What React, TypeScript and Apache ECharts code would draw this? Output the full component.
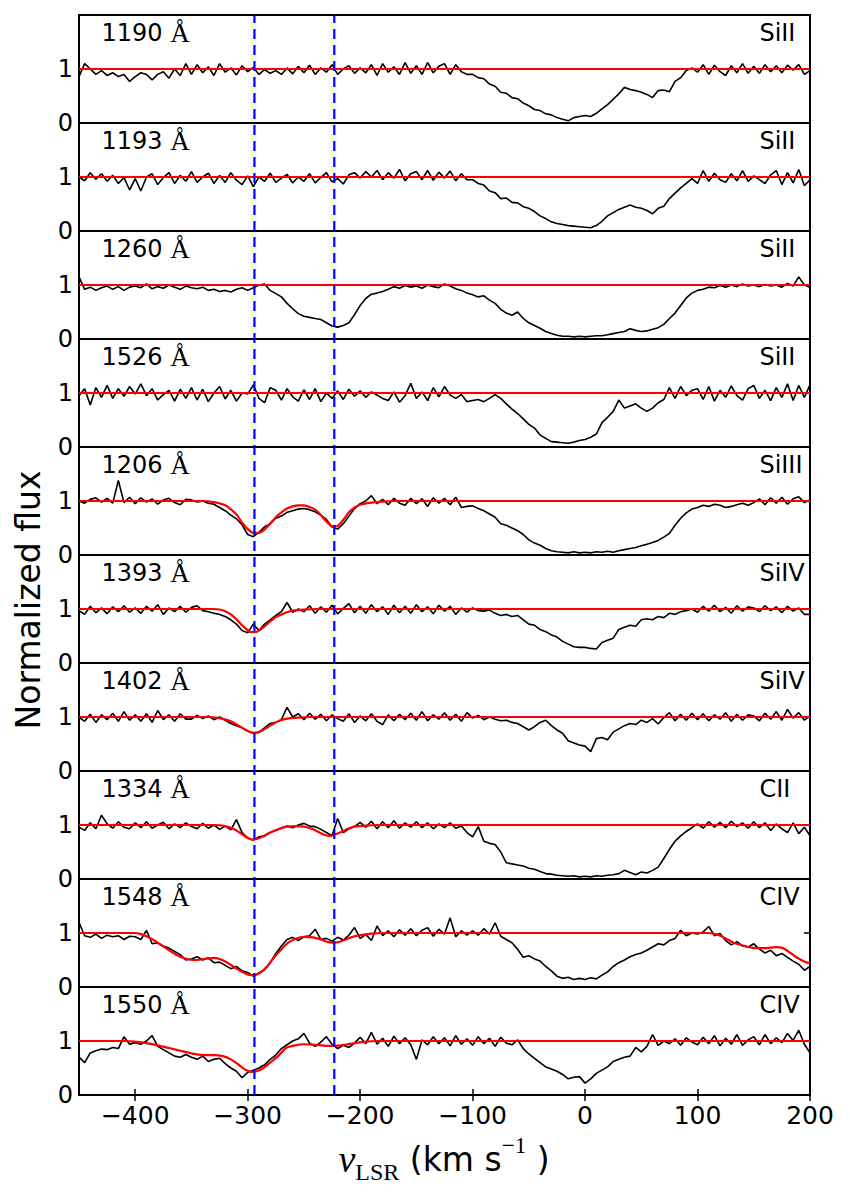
import React, { useEffect, useRef } from "react";
import * as echarts from "echarts";

// Velocity sampling of the normalized spectra (km/s)
const velocityStart = -450;
const velocityStep = 5;

const lineLabels = ["1190", "1193", "1260", "1526", "1206", "1393", "1402", "1334", "1548", "1550"];
const ionLabels = ["SiII", "SiII", "SiII", "SiII", "SiIII", "SiIV", "SiIV", "CII", "CIV", "CIV"];
const componentVelocities = [-294, -223];
const xTickValues = [-400, -300, -200, -100, 0, 100, 200];
const yTickValues = [0, 1];

// Normalized flux, one value every 5 km/s from -450 to 200 km/s
const fluxSiII1190 = [
  0.86, 1.1, 1.0, 0.9, 0.97, 0.88, 0.93, 0.86, 0.9, 0.77,
  0.86, 0.93, 0.9, 0.8, 0.9, 0.95, 0.83, 1.0, 0.88, 1.1,
  0.9, 1.08, 0.93, 1.04, 0.88, 1.1, 0.94, 1.02, 0.89, 1.06,
  0.95, 1.03, 0.9, 0.99, 0.92, 0.97, 0.9, 1.02, 0.91, 1.05,
  0.93, 1.07, 0.9, 1.02, 0.94, 1.08, 0.9, 1.0, 1.06, 0.92,
  1.02, 0.93, 1.08, 0.88, 1.1, 0.94, 1.04, 0.9, 1.12, 0.92,
  1.06, 0.9, 1.12, 0.93, 1.05, 1.1, 0.9, 1.08, 0.95, 0.9,
  0.9, 0.84, 0.82, 0.72, 0.68, 0.57, 0.55, 0.47, 0.45, 0.37,
  0.32, 0.25, 0.23, 0.17, 0.15, 0.1, 0.07, 0.04, 0.1, 0.12,
  0.14, 0.12, 0.18, 0.26, 0.34, 0.44, 0.54, 0.66, 0.62, 0.6,
  0.57, 0.53, 0.47, 0.6, 0.61, 0.58, 0.77, 0.84, 0.97, 1.02,
  0.94, 1.08, 0.9, 1.07, 0.95, 0.88, 1.06, 0.93, 1.1, 0.92,
  1.05, 0.92, 1.08, 0.95, 1.06, 0.93, 1.07, 0.98, 1.08, 0.9,
  0.97,
];
const fluxSiII1193 = [
  1.0, 0.93, 1.08, 0.96, 1.06, 0.92, 1.03, 0.88, 0.99, 0.76,
  0.97, 0.74, 1.0, 1.06, 0.86, 0.99, 1.08, 0.88, 1.03, 0.92,
  1.1, 0.9, 1.0, 1.07, 0.88, 1.03, 0.9, 1.08, 0.94, 0.86,
  1.02, 0.82, 1.0, 0.92, 1.07, 0.9, 0.98, 1.05, 0.89, 1.0,
  0.92, 1.06, 0.89, 0.99, 1.08, 0.91, 0.97, 0.87, 1.04, 1.08,
  0.98, 1.1, 1.0, 1.12, 0.95, 1.08, 0.98, 1.14, 0.93, 1.06,
  1.1, 0.95, 1.12, 0.94, 1.09, 0.98, 1.11, 0.93, 1.06, 0.95,
  0.95, 0.88, 0.85, 0.74, 0.71, 0.6, 0.61, 0.53, 0.52, 0.45,
  0.42, 0.36, 0.28, 0.23, 0.17, 0.14, 0.12, 0.1, 0.09, 0.08,
  0.07, 0.06, 0.1, 0.18, 0.28, 0.34, 0.4, 0.44, 0.48, 0.44,
  0.42, 0.38, 0.32, 0.42, 0.46, 0.6, 0.7, 0.8, 0.88, 0.97,
  0.88, 1.12, 0.92, 1.07, 0.95, 0.9, 1.06, 0.93, 1.12, 0.92,
  1.02, 0.95, 0.88, 1.04, 1.12, 0.86, 1.08, 0.89, 1.14, 0.84,
  0.95,
];
const fluxSiII1260 = [
  1.15, 0.92, 0.96, 0.9, 0.95, 0.98, 0.92, 0.97, 0.9, 0.96,
  0.98, 0.95, 1.02, 0.93, 0.97, 0.94, 1.0, 0.96, 0.92, 0.98,
  0.95, 0.93, 0.96, 0.9, 0.92, 0.88, 0.9, 0.87, 0.92, 0.95,
  0.9, 0.95, 1.0, 1.02, 0.9, 0.84, 0.78, 0.66, 0.56, 0.47,
  0.42, 0.4, 0.38, 0.36, 0.3, 0.24, 0.22, 0.25, 0.3, 0.45,
  0.62, 0.75, 0.83, 0.85, 0.88, 0.92, 0.97, 0.94, 0.99, 0.96,
  0.98, 0.94, 1.0, 0.97, 0.95, 1.02, 0.98, 0.93, 0.9, 0.85,
  0.82, 0.78, 0.8, 0.72, 0.66, 0.55, 0.48, 0.44, 0.5, 0.38,
  0.3, 0.25, 0.2, 0.14, 0.1, 0.07, 0.05, 0.05, 0.04, 0.05,
  0.04, 0.05, 0.06, 0.06, 0.08, 0.1, 0.12, 0.14, 0.19, 0.16,
  0.14, 0.15, 0.18, 0.21, 0.27, 0.38, 0.48, 0.62, 0.76, 0.85,
  0.9, 0.92, 0.96, 0.95, 0.99, 0.96, 1.0, 0.97, 1.02, 0.98,
  1.0, 0.97, 1.01, 0.98, 1.0, 0.96, 1.03, 0.98, 1.15, 1.0,
  0.96,
];
const fluxSiII1526 = [
  0.95, 1.08, 0.78, 1.1, 0.92, 1.14, 0.9, 1.08, 0.94, 1.12,
  0.98, 1.17, 0.95, 1.08, 0.87, 0.97, 1.05, 0.85, 1.07, 0.9,
  1.1, 0.87, 1.07, 0.84, 1.0, 1.12, 0.89, 1.05, 0.85, 1.0,
  0.98, 1.15, 0.9, 0.82, 1.1, 1.05, 0.87, 1.08, 0.93, 0.85,
  1.06, 0.88, 1.08, 0.84, 1.0, 0.9, 1.04, 0.88, 1.07, 0.94,
  1.04, 0.92, 1.02, 0.96, 0.9, 0.86, 1.02, 0.83, 0.95, 1.18,
  0.9, 1.02, 0.86, 1.1, 0.93, 1.12, 0.96, 0.9, 0.97, 0.84,
  0.86, 0.88, 0.84, 0.9, 0.97, 0.9, 0.8, 0.7, 0.62, 0.52,
  0.42, 0.35, 0.22, 0.16, 0.1, 0.09, 0.08, 0.07, 0.09, 0.12,
  0.14, 0.18, 0.24, 0.45, 0.55, 0.66, 0.87, 0.72, 0.76, 0.8,
  0.72, 0.66, 0.72, 0.82, 0.88, 1.1, 0.9, 1.12, 0.95, 1.05,
  1.08, 0.88, 1.12, 0.85, 1.05, 0.92, 1.13, 0.95, 0.87, 1.08,
  1.14, 0.9, 1.05, 0.86, 1.1, 0.92, 1.17, 0.86, 1.14, 0.92,
  1.15,
];
const fluxSiIII1206 = [
  1.0, 0.96, 1.03, 1.06, 0.98, 1.05, 0.96, 1.38, 0.97, 1.07,
  0.95, 1.06, 0.98, 1.04, 0.94, 1.02, 1.05, 0.97, 0.93, 1.03,
  1.02, 0.98, 1.0, 0.96, 0.94, 0.88, 0.82, 0.74, 0.67, 0.56,
  0.38, 0.34, 0.42, 0.52, 0.58, 0.68, 0.72, 0.79, 0.82, 0.85,
  0.86, 0.84, 0.8, 0.74, 0.66, 0.52, 0.48, 0.58, 0.72, 0.86,
  0.95, 1.0, 1.1, 0.95, 1.03, 0.93, 1.05, 0.96, 0.92, 1.05,
  0.95, 1.04, 0.9, 1.06, 0.96, 1.05, 0.93, 1.07, 0.88, 0.9,
  0.91, 0.86, 0.82, 0.76, 0.7, 0.58, 0.55, 0.5, 0.45, 0.38,
  0.28, 0.22, 0.18, 0.12, 0.08, 0.06, 0.05, 0.04, 0.06, 0.04,
  0.05, 0.04, 0.06, 0.05, 0.07, 0.05, 0.08, 0.1, 0.12, 0.14,
  0.17, 0.2, 0.23, 0.27, 0.33, 0.4, 0.55, 0.68, 0.78, 0.85,
  0.88, 0.92, 0.9, 0.94, 0.92, 0.88, 0.9, 0.93, 0.96, 0.92,
  0.97, 1.04, 0.93, 1.06, 0.96, 1.07, 0.94, 1.04, 1.08, 0.97,
  1.02,
];
const fluxSiIV1393 = [
  0.97, 0.9, 1.05, 0.93, 1.02, 0.91, 1.04, 0.95, 1.06, 0.94,
  1.02, 0.92, 1.05, 0.96, 1.08, 0.9, 1.02, 0.95, 1.05, 0.94,
  1.03, 1.06, 0.97, 0.95, 0.92, 0.9, 0.86, 0.8, 0.72, 0.6,
  0.56, 0.72, 0.6, 0.72, 0.8, 0.88, 0.95, 1.12, 0.94, 1.0,
  0.95, 1.06, 0.92, 1.04, 0.94, 1.07, 0.91, 1.01, 1.1, 0.93,
  1.05, 0.92, 1.08, 0.95, 1.04, 0.9, 1.07, 0.93, 1.05, 0.92,
  1.08, 0.95, 1.04, 0.91, 1.07, 0.96, 1.05, 0.9, 1.02, 0.94,
  1.02, 0.97, 0.96, 0.98, 0.92, 0.88, 0.9, 0.86, 0.88, 0.8,
  0.72, 0.7, 0.62, 0.58, 0.52, 0.48, 0.4, 0.35, 0.3, 0.29,
  0.29, 0.27, 0.26, 0.38, 0.42, 0.46, 0.62, 0.66, 0.7, 0.68,
  0.8, 0.82, 0.8, 0.86, 0.84, 0.92, 0.9, 0.95, 0.97, 1.0,
  0.94, 1.05, 0.96, 1.07, 0.95, 1.03, 0.92, 1.06, 0.96, 1.04,
  1.02, 0.95, 1.06, 0.97, 1.04, 0.93, 1.05, 0.96, 1.02, 0.9,
  0.9,
];
const fluxSiIV1402 = [
  1.0, 0.92, 1.05, 0.9, 1.04, 0.95, 1.07, 0.92, 1.1, 0.94,
  1.04, 0.92, 1.06, 0.9, 1.12, 0.95, 1.04, 0.92, 1.06, 0.96,
  0.96, 1.03, 0.97, 1.02, 0.95, 1.0, 0.94, 0.88, 0.84, 0.8,
  0.74, 0.7, 0.72, 0.8, 0.88, 0.9, 0.95, 1.18, 1.0, 1.06,
  0.95, 1.07, 0.96, 1.05, 0.93, 1.04, 0.97, 0.92, 1.06, 0.9,
  1.02, 0.93, 1.06, 0.92, 0.86, 1.04, 0.93, 1.05, 0.95, 1.07,
  0.94, 1.1, 0.93, 1.04, 0.96, 1.08, 0.94, 1.05, 0.92, 1.08,
  0.98, 1.03, 0.95, 1.0, 0.96, 0.93, 0.94, 0.9, 0.88, 0.82,
  0.76, 0.82, 0.9, 0.94, 0.84, 0.76, 0.7, 0.56, 0.52, 0.48,
  0.46, 0.36, 0.6, 0.62, 0.58, 0.72, 0.78, 0.84, 0.88, 0.86,
  0.94, 0.9, 0.97, 0.87, 0.99, 1.08, 0.93, 1.05, 0.94, 1.07,
  0.95, 1.06, 0.93, 1.04, 0.96, 1.08, 0.92, 1.05, 0.94, 1.04,
  1.02, 0.93, 1.07, 0.96, 1.1, 0.94, 1.14, 0.98, 1.08, 0.94,
  1.02,
];
const fluxCII1334 = [
  0.96, 0.9, 1.04, 0.93, 1.18, 1.02, 0.94, 1.06, 0.96, 0.93,
  1.04, 0.95, 1.06, 0.94, 1.0, 1.05, 0.93, 1.02, 0.95, 1.04,
  0.97, 0.93, 1.03, 0.94, 1.0, 0.92, 0.98, 0.91, 1.1, 0.86,
  0.76, 0.72, 0.78, 0.8, 0.86, 0.9, 0.94, 0.98, 0.95, 1.0,
  1.03, 0.98, 0.97, 0.92, 0.86, 0.8, 1.12, 0.86, 0.93, 0.97,
  1.05, 0.96, 1.07, 0.93, 1.06, 0.95, 1.08, 0.94, 1.04, 0.96,
  1.06, 0.95, 1.04, 0.93, 1.02, 0.95, 1.04, 0.94, 0.98, 0.86,
  0.78, 0.97, 0.7, 0.66, 0.64, 0.5, 0.3, 0.28, 0.26, 0.24,
  0.2, 0.18, 0.14, 0.1, 0.09, 0.07, 0.06, 0.05, 0.06, 0.04,
  0.05, 0.04, 0.06, 0.05, 0.07, 0.08, 0.1, 0.16, 0.12, 0.08,
  0.13, 0.11, 0.16, 0.22, 0.38, 0.55, 0.7, 0.8, 0.88, 0.95,
  1.02, 0.94, 1.06, 0.96, 1.05, 0.95, 1.07, 0.97, 1.04, 0.94,
  1.06, 0.95, 1.04, 0.9, 1.02, 0.93, 0.86, 1.04, 0.84, 0.96,
  0.8,
];
const fluxCIV1548 = [
  1.2, 0.95, 0.92, 0.98, 0.9, 0.96, 0.93, 0.95, 0.88, 0.94,
  0.93, 0.88, 1.05, 0.8, 0.82, 0.76, 0.72, 0.66, 0.6, 0.5,
  0.52, 0.56, 0.5, 0.54, 0.45, 0.46, 0.4, 0.34, 0.38, 0.3,
  0.27, 0.2, 0.26, 0.32, 0.45, 0.62, 0.76, 0.88, 0.92, 0.86,
  0.93, 0.95, 1.07, 0.88, 0.9, 0.85, 0.92, 0.87, 0.96, 1.1,
  0.9, 0.97, 0.86, 1.13, 0.95, 1.04, 0.93, 1.06, 0.96, 1.08,
  0.95, 1.05, 1.1, 0.94, 1.07, 0.98, 1.28, 0.93, 1.04, 0.96,
  1.04, 0.96, 1.08, 0.98, 1.19, 0.94, 0.88, 0.82, 0.7, 0.55,
  0.58, 0.52, 0.48, 0.38, 0.3, 0.2, 0.16, 0.18, 0.14, 0.16,
  0.14, 0.17, 0.15, 0.22, 0.28, 0.38, 0.45, 0.5, 0.56, 0.6,
  0.63, 0.68, 0.74, 0.8, 0.78, 0.86, 0.9, 1.05, 0.95, 1.0,
  0.98, 1.02, 1.12, 0.95, 0.99, 0.86, 0.78, 0.84, 0.76, 0.74,
  0.8, 0.7, 0.63, 0.68, 0.58, 0.62, 0.55, 0.48, 0.42, 0.31,
  0.38,
];
const fluxCIV1550 = [
  0.7, 0.6, 0.78, 0.82, 0.85, 0.84, 0.88, 0.86, 1.08, 0.94,
  0.97, 0.94, 1.0, 1.1, 0.9, 0.84, 0.78, 0.72, 0.7, 0.75,
  0.7, 0.66, 0.72, 0.62, 0.66, 0.68, 0.58, 0.5, 0.44, 0.32,
  0.42, 0.46, 0.5, 0.56, 0.66, 0.74, 0.86, 0.93, 1.0, 1.04,
  1.14, 0.96, 0.9, 0.98, 1.08, 0.94, 0.86, 0.92, 0.88, 0.96,
  1.07, 0.95, 1.16, 0.94, 1.05, 0.9, 1.09, 0.95, 1.06, 0.93,
  0.66, 1.02, 0.93, 1.08, 0.95, 1.06, 0.91, 1.1, 0.94, 1.04,
  0.92, 1.08, 0.95, 1.05, 0.9, 1.07, 0.96, 0.93, 1.02, 0.86,
  0.76, 0.68, 0.6, 0.52, 0.48, 0.44, 0.38, 0.3, 0.33, 0.34,
  0.22, 0.3, 0.4, 0.46, 0.52, 0.62, 0.66, 0.7, 0.72, 0.88,
  0.8, 0.9, 1.12, 0.92, 1.0, 0.95, 1.04, 0.92, 1.06, 0.98,
  0.93, 1.07, 0.95, 1.1, 0.91, 1.05, 0.94, 1.12, 0.92, 1.02,
  1.08, 0.93, 1.12, 0.95, 1.06, 0.97, 1.14, 1.01, 1.2, 0.94,
  0.78,
];

// Model fits: knot velocities (km/s) and model flux
const fitContinuumV = [-450, 200];
const fitContinuumF = [1, 1];
const fitSiIII1206V = [-450, -340, -330, -320, -310, -305, -300, -295, -290, -285, -280, -275, -270, -265, -260, -255, -250, -245, -240, -235, -230, -225, -220, -215, -210, -205, -200, -190, -180, -170, 200];
const fitSiIII1206F = [1, 1, 0.98, 0.92, 0.75, 0.6, 0.48, 0.41, 0.41, 0.47, 0.58, 0.7, 0.79, 0.86, 0.9, 0.92, 0.92, 0.89, 0.84, 0.74, 0.62, 0.53, 0.54, 0.65, 0.79, 0.88, 0.93, 0.97, 0.99, 1, 1];
const fitSiIV1393V = [-450, -330, -325, -320, -315, -310, -305, -300, -297, -293, -290, -285, -280, -275, -270, -265, -260, -250, -240, 200];
const fitSiIV1393F = [1, 1, 0.99, 0.96, 0.9, 0.81, 0.7, 0.61, 0.57, 0.57, 0.6, 0.68, 0.77, 0.85, 0.9, 0.94, 0.97, 0.99, 1, 1];
const fitSiIV1402V = [-450, -335, -325, -315, -305, -300, -296, -292, -287, -280, -272, -265, -255, -245, 200];
const fitSiIV1402F = [1, 1, 0.98, 0.92, 0.8, 0.74, 0.71, 0.71, 0.75, 0.84, 0.93, 0.97, 0.99, 1, 1];
const fitCII1334V = [-450, -330, -320, -312, -305, -300, -296, -292, -287, -280, -272, -265, -257, -250, -243, -237, -232, -228, -224, -218, -212, -205, -195, -185, 200];
const fitCII1334F = [1, 1, 0.98, 0.92, 0.83, 0.76, 0.73, 0.74, 0.78, 0.86, 0.93, 0.97, 0.98, 0.97, 0.93, 0.87, 0.82, 0.8, 0.81, 0.86, 0.92, 0.97, 0.99, 1, 1];
const fitCIV1548V = [-450, -400, -395, -388, -380, -370, -360, -352, -345, -338, -330, -325, -318, -310, -303, -298, -294, -288, -282, -276, -270, -264, -258, -250, -242, -235, -228, -222, -215, -208, -200, -190, -180, 110, 118, 125, 132, 140, 148, 160, 170, 176, 182, 188, 194, 200];
const fitCIV1548F = [1, 1, 0.98, 0.92, 0.82, 0.68, 0.56, 0.51, 0.5, 0.52, 0.54, 0.52, 0.45, 0.34, 0.26, 0.22, 0.22, 0.28, 0.4, 0.56, 0.7, 0.82, 0.89, 0.93, 0.92, 0.88, 0.83, 0.82, 0.86, 0.92, 0.96, 0.99, 1, 1, 0.97, 0.9, 0.82, 0.77, 0.73, 0.72, 0.74, 0.72, 0.64, 0.55, 0.48, 0.43];
const fitCIV1550V = [-450, -410, -400, -390, -380, -370, -360, -350, -340, -330, -322, -315, -308, -302, -297, -292, -286, -280, -273, -266, -258, -250, -240, -230, -222, -214, -205, -195, -185, 200];
const fitCIV1550F = [1, 1, 0.99, 0.96, 0.92, 0.87, 0.82, 0.77, 0.74, 0.74, 0.72, 0.66, 0.56, 0.47, 0.43, 0.44, 0.5, 0.6, 0.72, 0.87, 0.92, 0.94, 0.93, 0.91, 0.91, 0.93, 0.96, 0.99, 1, 1];

const fluxPanels = [
  fluxSiII1190, fluxSiII1193, fluxSiII1260, fluxSiII1526, fluxSiIII1206,
  fluxSiIV1393, fluxSiIV1402, fluxCII1334, fluxCIV1548, fluxCIV1550,
];
const fitVelocityPanels = [
  fitContinuumV, fitContinuumV, fitContinuumV, fitContinuumV, fitSiIII1206V,
  fitSiIV1393V, fitSiIV1402V, fitCII1334V, fitCIV1548V, fitCIV1550V,
];
const fitFluxPanels = [
  fitContinuumF, fitContinuumF, fitContinuumF, fitContinuumF, fitSiIII1206F,
  fitSiIV1393F, fitSiIV1402F, fitCII1334F, fitCIV1548F, fitCIV1550F,
];

// Layout
const WIDTH = 850;
const HEIGHT = 1197;
const PLOT_LEFT = 79;
const PLOT_RIGHT = 40;
const PANEL_TOP = 15;
const PANEL_HEIGHT = 108;
const V_MIN = -450;
const V_MAX = 200;
const LABEL_ANCHOR_V = -430;
const ION_ANCHOR_V = 155;
const LABEL_ANCHOR_FLUX = 1.41;

const SANS = '"DejaVu Sans", sans-serif';
const SERIF = '"Liberation Serif", "DejaVu Serif", serif';

const fmtTick = (v: number) => (v < 0 ? "\u2212" + Math.abs(v) : String(v));

function buildOption() {
  const n = fluxPanels.length;
  const grids: any[] = [];
  const xAxes: any[] = [];
  const yAxes: any[] = [];
  const series: any[] = [];
  const tickStyle = { color: "#000", width: 1.5 };

  for (let i = 0; i < n; i++) {
    grids.push({
      left: PLOT_LEFT,
      right: PLOT_RIGHT,
      top: PANEL_TOP + i * PANEL_HEIGHT,
      height: PANEL_HEIGHT,
      show: true,
      borderColor: "#000",
      borderWidth: 2,
      backgroundColor: "transparent",
      containLabel: false,
    });
    const isBottom = i === n - 1;
    xAxes.push({
      type: "value",
      gridIndex: i,
      min: V_MIN,
      max: V_MAX,
      position: "bottom",
      axisLine: { show: false },
      splitLine: { show: false },
      axisTick: {
        show: isBottom,
        inside: true,
        length: 6,
        customValues: xTickValues,
        lineStyle: tickStyle,
      },
      axisLabel: {
        show: isBottom,
        customValues: xTickValues,
        formatter: fmtTick,
        color: "#000",
        fontFamily: SANS,
        fontSize: 25,
        margin: 8,
      },
    });
    yAxes.push({
      type: "value",
      gridIndex: i,
      min: 0,
      max: 2,
      interval: 1,
      position: "left",
      axisLine: { show: false },
      splitLine: { show: false },
      axisTick: { show: true, inside: true, length: 6, customValues: yTickValues, lineStyle: tickStyle },
      axisLabel: {
        show: true,
        customValues: yTickValues,
        color: "#000",
        fontFamily: SANS,
        fontSize: 24,
        margin: 6,
      },
    });
  }
  // ticks along the top edge of the lowest panel
  xAxes.push({
    type: "value",
    gridIndex: n - 1,
    min: V_MIN,
    max: V_MAX,
    position: "top",
    axisLine: { show: false },
    splitLine: { show: false },
    axisTick: { show: true, inside: true, length: 6, customValues: xTickValues, lineStyle: tickStyle },
    axisLabel: { show: false },
  });
  // right-hand ticks of every panel
  for (let i = 0; i < n; i++) {
    yAxes.push({
      type: "value",
      gridIndex: i,
      min: 0,
      max: 2,
      interval: 1,
      position: "right",
      axisLine: { show: false },
      splitLine: { show: false },
      axisTick: { show: true, inside: true, length: 6, customValues: yTickValues, lineStyle: tickStyle },
      axisLabel: { show: false },
    });
  }
  // full-height overlay for the component markers
  const overlayGrid = n;
  grids.push({ left: PLOT_LEFT, right: PLOT_RIGHT, top: PANEL_TOP, height: PANEL_HEIGHT * n, show: false });
  const overlayX = xAxes.length;
  xAxes.push({ type: "value", gridIndex: overlayGrid, min: V_MIN, max: V_MAX, show: false });
  const overlayY = yAxes.length;
  yAxes.push({ type: "value", gridIndex: overlayGrid, min: 0, max: 1, show: false });

  for (let i = 0; i < n; i++) {
    const flux = fluxPanels[i];
    const data = flux.map((f, k) => [velocityStart + k * velocityStep, f]);
    series.push({
      type: "line",
      xAxisIndex: i,
      yAxisIndex: i,
      data,
      symbol: "none",
      lineStyle: { color: "#000", width: 1.6 },
      z: 2,
      silent: true,
    });
    const fv = fitVelocityPanels[i];
    const ff = fitFluxPanels[i];
    series.push({
      type: "line",
      xAxisIndex: i,
      yAxisIndex: i,
      data: fv.map((v, k) => [v, ff[k]]),
      symbol: "none",
      smooth: 0.2,
      lineStyle: { color: "#ff0000", width: 2.2 },
      z: 3,
      silent: true,
    });
    series.push({
      type: "scatter",
      xAxisIndex: i,
      yAxisIndex: i,
      symbolSize: 0,
      silent: true,
      z: 6,
      itemStyle: { color: "rgba(0,0,0,0)", opacity: 1 },
      data: [
        {
          value: [LABEL_ANCHOR_V, LABEL_ANCHOR_FLUX],
          label: {
            show: true,
            position: [0, 0],
            align: "left",
            verticalAlign: "bottom",
            opacity: 1,
            formatter: `{num|${lineLabels[i]} }{ang|\u00c5}`,
            rich: {
              num: { fontFamily: SANS, fontSize: 24, color: "#000", lineHeight: 28 },
              ang: { fontFamily: SERIF, fontSize: 27, color: "#000", lineHeight: 28 },
            },
          },
        },
        {
          value: [ION_ANCHOR_V, LABEL_ANCHOR_FLUX],
          label: {
            show: true,
            position: [0, 0],
            align: "left",
            verticalAlign: "bottom",
            opacity: 1,
            formatter: ionLabels[i],
            fontFamily: SANS,
            fontSize: 24,
            color: "#000",
            lineHeight: 28,
          },
        },
      ],
    });
  }

  componentVelocities.forEach((v) => {
    series.push({
      type: "line",
      xAxisIndex: overlayX,
      yAxisIndex: overlayY,
      data: [
        [v, 0],
        [v, 1],
      ],
      symbol: "none",
      lineStyle: { color: "#0000ff", width: 2.2, type: [10, 6] },
      z: 5,
      silent: true,
    });
  });

  return {
    animation: false,
    backgroundColor: "#fff",
    grid: grids,
    xAxis: xAxes,
    yAxis: yAxes,
    series,
    graphic: [
      {
        type: "text",
        x: 28,
        y: 600,
        rotation: Math.PI / 2,
        style: {
          text: "Normalized flux",
          fontFamily: SANS,
          fontSize: 33,
          fill: "#000",
          align: "center",
          verticalAlign: "middle",
        },
      },
      {
        type: "text",
        x: 444,
        y: 1159,
        style: {
          text: "{v|v}{sub|LSR}{t| (km s}{sup|\u22121}{t| )}",
          align: "center",
          verticalAlign: "middle",
          fill: "#000",
          rich: {
            v: { fontFamily: SERIF, fontStyle: "italic", fontSize: 38, lineHeight: 50, verticalAlign: "middle", fill: "#000" },
            sub: { fontFamily: SERIF, fontSize: 24, lineHeight: 26, verticalAlign: "bottom", fill: "#000" },
            t: { fontFamily: SANS, fontSize: 33, lineHeight: 50, verticalAlign: "middle", fill: "#000" },
            sup: { fontFamily: SERIF, fontSize: 23, lineHeight: 30, verticalAlign: "top", fill: "#000" },
          },
        },
      },
    ],
  };
}

export default function App() {
  const ref = useRef<HTMLDivElement>(null);
  useEffect(() => {
    document.body.style.margin = "0";
    if (!ref.current) return;
    const chart = echarts.init(ref.current, undefined, { renderer: "svg" });
    chart.setOption(buildOption() as any);
    return () => chart.dispose();
  }, []);
  return <div ref={ref} style={{ width: WIDTH, height: HEIGHT }} />;
}
